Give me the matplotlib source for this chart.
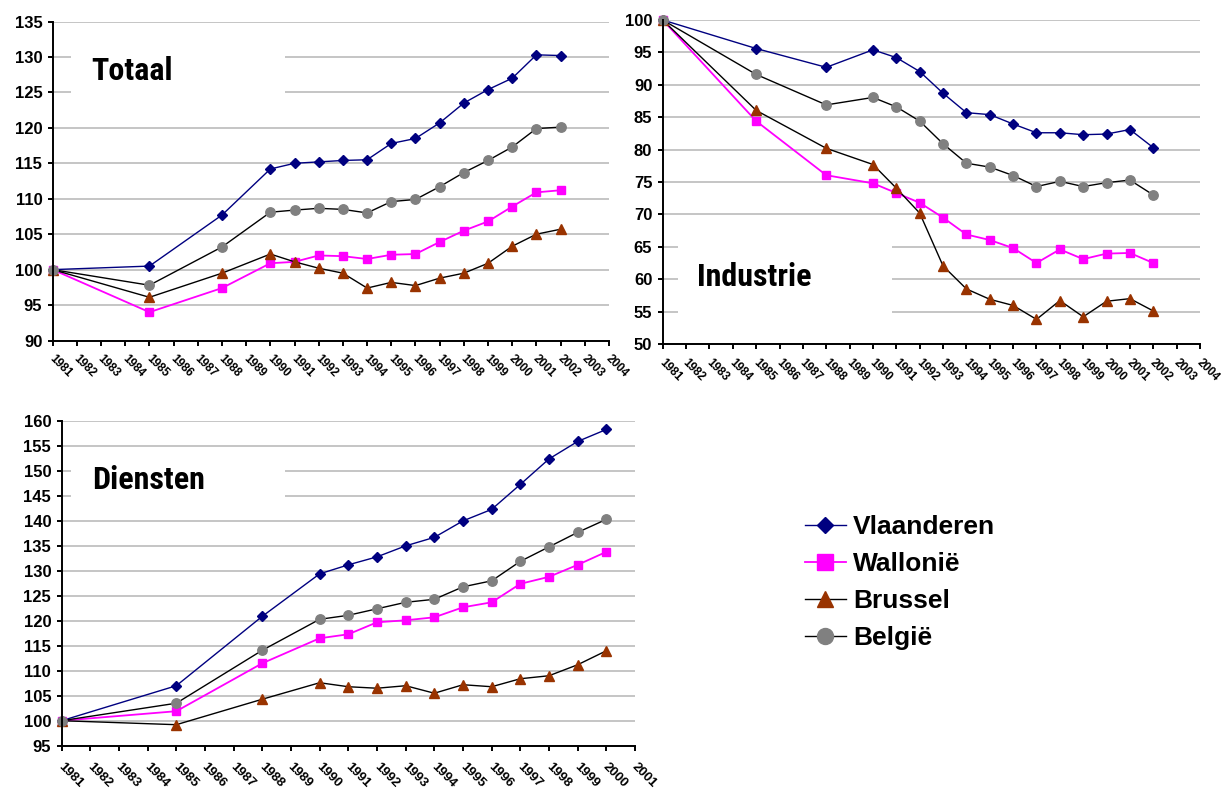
import matplotlib
matplotlib.use("Agg")
import matplotlib.pyplot as plt
from matplotlib import font_manager as fm
from matplotlib.patches import Rectangle
from matplotlib.transforms import ScaledTranslation

# Category axes (one tick per year)
ticks_long = list(range(1981, 2005))
ticks_short = list(range(1981, 2002))

# Years with observations
years_main = [1981, 1985, 1988] + list(range(1990, 2003))
years_dienst = [1981, 1985, 1988] + list(range(1990, 2001))

series_names = ["Vlaanderen", "Wallonië", "Brussel", "België"]

# Totaal (index 1981 = 100)
totaal_vl = [100, 100.5, 107.7, 114.2, 115.0, 115.2, 115.4, 115.5, 117.8, 118.5, 120.7, 123.5, 125.4, 127.0, 130.3, 130.2]
totaal_wa = [100, 94.0, 97.4, 100.9, 101.1, 102.0, 101.9, 101.5, 102.1, 102.2, 103.9, 105.5, 106.8, 108.9, 110.9, 111.2]
totaal_br = [100, 96.1, 99.5, 102.2, 101.1, 100.2, 99.5, 97.4, 98.2, 97.75, 98.8, 99.5, 100.9, 103.3, 105.0, 105.7]
totaal_be = [100, 97.8, 103.2, 108.1, 108.4, 108.65, 108.5, 108.0, 109.6, 109.9, 111.7, 113.7, 115.4, 117.3, 119.9, 120.1]

# Industrie
industrie_vl = [100, 95.6, 92.7, 95.4, 94.2, 92.05, 88.7, 85.7, 85.4, 83.95, 82.6, 82.6, 82.3, 82.4, 83.1, 80.3]
industrie_wa = [100, 84.4, 76.05, 74.8, 73.3, 71.8, 69.5, 66.9, 66.05, 64.8, 62.5, 64.6, 63.1, 63.95, 64.05, 62.5]
industrie_br = [100, 86.05, 80.2, 77.7, 74.05, 70.2, 62.05, 58.5, 56.9, 55.95, 53.8, 56.7, 54.2, 56.6, 57.0, 55.1]
industrie_be = [100, 91.6, 86.9, 88.05, 86.6, 84.4, 80.9, 77.9, 77.3, 76.0, 74.3, 75.1, 74.3, 74.9, 75.3, 73.0]

# Diensten
diensten_vl = [100, 107.0, 120.9, 129.4, 131.2, 132.8, 135.0, 136.7, 140.0, 142.3, 147.3, 152.4, 155.9, 158.3]
diensten_wa = [100, 101.9, 111.5, 116.5, 117.3, 119.7, 120.1, 120.7, 122.7, 123.7, 127.4, 128.8, 131.2, 133.8]
diensten_br = [100, 99.2, 104.3, 107.6, 106.8, 106.5, 107.0, 105.5, 107.2, 106.8, 108.4, 109.0, 111.2, 114.0]
diensten_be = [100, 103.5, 114.1, 120.3, 121.1, 122.4, 123.7, 124.3, 126.8, 128.0, 131.9, 134.8, 137.7, 140.3]

BODY_FONT = ["Liberation Sans", "DejaVu Sans"]


def _weight(w):
    if isinstance(w, str):
        return {"bold": 700, "heavy": 800, "black": 900, "extra bold": 800,
                "semibold": 600, "demibold": 600, "demi": 600}.get(w.lower(), 400)
    return int(w)


def narrow_bold_font():
    """Pick a condensed bold face for the panel titles, if one is installed."""
    prefs = ["liberation sans narrow", "arial narrow", "roboto condensed",
             "dejavu sans condensed", "open sans condensed", "noto sans condensed"]
    found = []
    for f in fm.fontManager.ttflist:
        fname = f.fname.lower()
        label = (f.name + " " + fname).lower()
        narrow = ("narrow" in label or "condensed" in label
                  or str(f.stretch).lower() in ("condensed", "semi-condensed",
                                                "extra-condensed"))
        if narrow and _weight(f.weight) >= 600 and f.style == "normal":
            rank = len(prefs)
            for i, p in enumerate(prefs):
                if p.split()[0] in label and ("narrow" in label or "condensed" in label):
                    rank = i
                    break
            found.append((rank, f.fname))
    if found:
        found.sort()
        return fm.FontProperties(fname=found[0][1], size=23)
    return fm.FontProperties(family=BODY_FONT, weight="bold", size=21)


TITLE_PROPS = narrow_bold_font()

styles = [
    dict(color="#000080", marker="D", mfc="#000080", mec="#000080", ms=4.8, lw=1.0),
    dict(color="#FF00FF", marker="s", mfc="#FF00FF", mec="#FF00FF", ms=6.2, lw=1.3),
    dict(color="#000000", marker="^", mfc="#993300", mec="#993300", ms=6.8, lw=1.0),
    dict(color="#000000", marker="o", mfc="#808080", mec="#808080", ms=6.8, lw=1.0),
]

fig = plt.figure(figsize=(12.28, 7.91), dpi=100)
fig.patch.set_facecolor("white")
panels = []


def panel(rect, ticks, years, data, ylim, title, box, text_pos, xlab_size, xlab_pad):
    ax = fig.add_axes(rect)
    first = ticks[0]
    xs = [y - first for y in years]
    handles = []
    for name, vals, st in zip(series_names, data, styles):
        (h,) = ax.plot(xs, vals, label=name, zorder=3, clip_on=False, **st)
        handles.append(h)
    ax.set_xlim(0, len(ticks) - 1)
    ax.set_ylim(*ylim)
    ax.set_yticks(range(ylim[0], ylim[1] + 1, 5))
    ax.set_xticks(range(len(ticks)))
    ax.set_xticklabels([str(t) for t in ticks], rotation=-45,
                       rotation_mode="anchor", ha="left", va="top")
    for s in ("top", "right"):
        ax.spines[s].set_visible(False)
    for s in ("left", "bottom"):
        ax.spines[s].set_linewidth(1.4)
        ax.spines[s].set_color("black")
        ax.spines[s].set_zorder(4)
    ax.yaxis.grid(True, color="#C0C0C0", lw=1.3, zorder=0)
    ax.set_axisbelow(True)
    ax.tick_params(axis="y", direction="out", length=3.5, width=1.4, pad=4,
                   labelsize=12)
    ax.tick_params(axis="x", direction="out", length=3.5, width=1.4,
                   pad=xlab_pad, labelsize=xlab_size)
    for lab in ax.get_yticklabels() + ax.get_xticklabels():
        lab.set_fontweight("bold")
        lab.set_family(BODY_FONT)
    # white label box interrupting the gridlines
    ax.add_patch(Rectangle((box[0], box[1]), box[2] - box[0], box[3] - box[1],
                           transform=ax.transAxes, facecolor="white",
                           edgecolor="none", zorder=1))
    ax.text(text_pos[0], text_pos[1], title, transform=ax.transAxes,
            fontproperties=TITLE_PROPS, ha="left", va="baseline", zorder=2)
    panels.append(ax)
    return ax, handles


ax1, handles = panel([0.0429, 0.5695, 0.4530, 0.4033], ticks_long, years_main,
                     [totaal_vl, totaal_wa, totaal_br, totaal_be], (90, 135),
                     "Totaal", (0.033, 0.754, 0.417, 0.911), (0.070, 0.817), 8.5, 5.5)

ax2, _ = panel([0.5397, 0.5651, 0.4375, 0.4096], ticks_long, years_main,
               [industrie_vl, industrie_wa, industrie_br, industrie_be], (50, 100),
               "Industrie", (0.0275, 0.049, 0.427, 0.352), (0.064, 0.1775), 8.5, 5.5)

ax3, _ = panel([0.0502, 0.0573, 0.4669, 0.4105], ticks_short, years_dienst,
               [diensten_vl, diensten_wa, diensten_br, diensten_be], (95, 160),
               "Diensten", (0.017, 0.726, 0.390, 0.895), (0.0535, 0.7906), 9.5, 7)

leg = fig.legend(handles=handles, loc="upper left",
                 bbox_to_anchor=(805 / 1228, 1 - 515 / 791),
                 frameon=False, borderpad=0, borderaxespad=0,
                 handlelength=1.55, handletextpad=0.28, labelspacing=0.49,
                 prop=dict(family=BODY_FONT, weight="bold", size=19))
for h, ms in zip(leg.legend_handles, [8.0, 11.0, 11.0, 11.5]):
    h.set_markersize(ms)

# nudge the slanted year labels a little to the right of their ticks
shift = ScaledTranslation(3 / 100, 0, fig.dpi_scale_trans)
for ax in panels:
    for lab in ax.get_xticklabels():
        lab.set_transform(lab.get_transform() + shift)

fig.savefig("out.png", dpi=100, facecolor="white")
